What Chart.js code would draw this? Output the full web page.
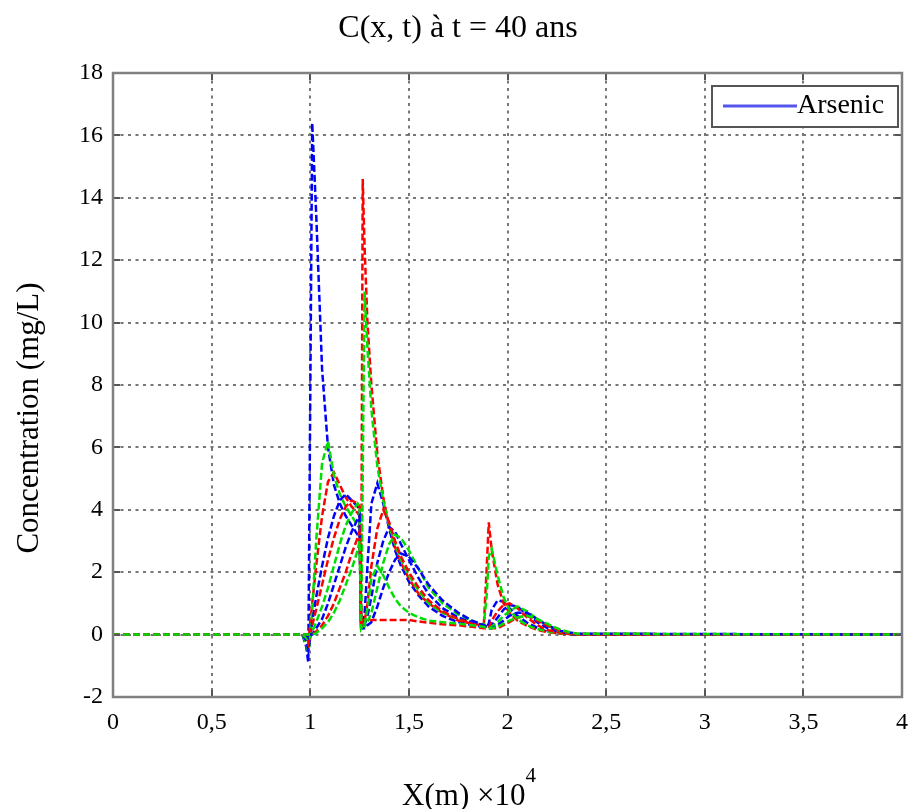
<!DOCTYPE html>
<html>
<head>
<meta charset="utf-8">
<title>C(x, t) à t = 40 ans</title>
<script src="https://cdn.jsdelivr.net/npm/chart.js@4.4.1/dist/chart.umd.min.js"></script>
<style>
  html, body { margin: 0; padding: 0; background: #fff; }
  #chart { display: block; }
</style>
</head>
<body>
<canvas id="chart" width="908" height="809"></canvas>
<script>
// abscisses communes, X en 10^4 m
const xs = [0, 0.96, 0.98, 0.99, 1.0, 1.01, 1.03, 1.06, 1.09, 1.12, 1.15, 1.18, 1.21, 1.24, 1.25,
  1.258, 1.266, 1.275, 1.29, 1.31, 1.34, 1.37, 1.4, 1.43, 1.46, 1.5, 1.55, 1.6, 1.67, 1.75,
  1.82, 1.88, 1.895, 1.905, 1.92, 1.95, 1.98, 2.01, 2.05, 2.1, 2.15, 2.2, 2.27, 2.35, 4];

// concentrations (mg/L), une courbe par pas de temps
const c0 = [0, 0, -0.4, -0.9, 7.5, 16.4, 13.5, 8.5, 6.0, 4.8, 4.2, 3.8, 3.5, 3.2, 3.0,
  0.3, 0.4, 0.6, 2.2, 4.2, 4.85, 4.2, 3.4, 2.7, 2.2, 1.7, 1.25, 0.9, 0.6, 0.4,
  0.3, 0.25, 0.25, 0.35, 0.8, 1.1, 1.05, 0.85, 0.6, 0.38, 0.22, 0.1, 0.04, 0, 0];
const c1 = [0, 0, -0.2, -0.3, 0.4, 1.0, 2.2, 3.8, 4.9, 5.2, 4.8, 4.4, 4.1, 3.9, 3.8,
  0.3, 14.6, 12.5, 10.0, 8.0, 5.8, 4.4, 3.5, 2.8, 2.3, 1.8, 1.3, 1.0, 0.7, 0.45,
  0.35, 0.3, 2.2, 3.6, 2.7, 1.6, 1.0, 0.7, 0.45, 0.28, 0.15, 0.08, 0.03, 0, 0];
const c2 = [0, 0, -0.3, -0.55, -0.2, 0.8, 3.0, 5.5, 6.2, 5.1, 4.5, 4.1, 3.8, 3.5, 3.4,
  0.2, 5.0, 11.0, 9.2, 7.2, 5.4, 4.3, 3.5, 2.9, 2.4, 1.9, 1.4, 1.0, 0.7, 0.5,
  0.4, 0.3, 1.3, 2.5, 2.75, 1.9, 1.2, 0.8, 0.5, 0.3, 0.18, 0.1, 0.04, 0, 0];
const c3 = [0, 0, -0.2, -0.5, -0.1, 0.4, 1.2, 2.2, 3.1, 3.8, 4.3, 4.5, 4.3, 4.1, 4.0,
  0.25, 0.3, 0.3, 0.6, 1.2, 2.3, 3.0, 3.45, 3.3, 2.9, 2.4, 1.8, 1.3, 0.85, 0.55,
  0.4, 0.3, 0.25, 0.25, 0.3, 0.55, 0.8, 0.95, 0.9, 0.65, 0.4, 0.22, 0.08, 0, 0];
const c4 = [0, 0, -0.1, -0.3, 0, 0.3, 0.8, 1.6, 2.4, 3.1, 3.7, 4.1, 4.3, 4.2, 4.1,
  0.3, 0.3, 0.4, 1.0, 2.2, 3.4, 4.0, 3.6, 3.0, 2.5, 2.0, 1.5, 1.1, 0.75, 0.5,
  0.35, 0.3, 0.25, 0.2, 0.45, 0.75, 0.95, 1.0, 0.85, 0.55, 0.3, 0.15, 0.06, 0, 0];
const c5 = [0, 0, -0.1, -0.2, 0, 0.1, 0.4, 0.9, 1.5, 2.2, 2.9, 3.5, 3.9, 4.2, 4.1,
  0.2, 0.2, 0.25, 0.4, 0.7, 1.5, 2.3, 2.9, 3.2, 3.1, 2.7, 2.1, 1.5, 1.0, 0.65,
  0.45, 0.3, 0.25, 0.2, 0.25, 0.4, 0.6, 0.75, 0.9, 0.75, 0.5, 0.3, 0.1, 0.02, 0];
const c6 = [0, 0, 0, -0.1, 0, 0, 0.2, 0.5, 1.0, 1.6, 2.2, 2.8, 3.3, 3.7, 3.8,
  0.2, 0.2, 0.2, 0.3, 0.4, 0.9, 1.5, 2.0, 2.4, 2.6, 2.5, 2.1, 1.6, 1.1, 0.7,
  0.45, 0.3, 0.25, 0.2, 0.2, 0.3, 0.45, 0.6, 0.7, 0.7, 0.5, 0.3, 0.12, 0.03, 0];
const c7 = [0, 0, 0, 0, 0, 0, 0.1, 0.3, 0.6, 1.0, 1.5, 2.0, 2.6, 3.1, 3.3,
  0.3, 0.47, 0.47, 0.47, 0.47, 0.47, 0.47, 0.47, 0.47, 0.47, 0.47, 0.42, 0.38, 0.33, 0.3,
  0.25, 0.2, 0.2, 0.2, 0.2, 0.2, 0.3, 0.4, 0.55, 0.6, 0.45, 0.3, 0.12, 0.02, 0];
const c8 = [0, 0, 0, 0, 0, 0, 0.05, 0.2, 0.4, 0.7, 1.1, 1.6, 2.1, 2.7, 3.0,
  0.2, 0.3, 0.3, 0.8, 1.8, 2.2, 1.9, 1.5, 1.15, 0.9, 0.7, 0.55, 0.45, 0.4, 0.35,
  0.3, 0.25, 0.2, 0.2, 0.2, 0.25, 0.35, 0.45, 0.55, 0.6, 0.5, 0.35, 0.15, 0.03, 0];

const curves = [c0, c1, c2, c3, c4, c5, c6, c7, c8];
const colors = ['#0000ff', '#ff0000', '#00dd00'];
const xTicks = [0, 0.5, 1, 1.5, 2, 2.5, 3, 3.5, 4];
const yTicks = [-2, 0, 2, 4, 6, 8, 10, 12, 14, 16, 18];

const serif = '"Liberation Serif", "Times New Roman", serif';

const datasets = curves.map((ys, i) => ({
  label: i === 0 ? 'Arsenic' : 'c' + i,
  data: ys.map((y, j) => ({ x: xs[j], y: y })),
  borderColor: colors[i % 3],
  borderWidth: 2.5,
  borderDash: [7, 3],
  pointRadius: 0,
  tension: 0,
  fill: false,
  order: curves.length - i
}));

// cadre, graduations, légende et textes façon MATLAB
const matlabBox = {
  id: 'matlabBox',
  afterDraw(chart) {
    const ctx = chart.ctx;
    const a = chart.chartArea;
    const sx = chart.scales.x, sy = chart.scales.y;
    ctx.save();

    ctx.strokeStyle = '#555';
    ctx.lineWidth = 2;
    ctx.beginPath();
    xTicks.forEach(v => {
      const px = Math.round(sx.getPixelForValue(v));
      ctx.moveTo(px, a.bottom); ctx.lineTo(px, a.bottom - 7);
      ctx.moveTo(px, a.top); ctx.lineTo(px, a.top + 7);
    });
    yTicks.forEach(v => {
      const py = Math.round(sy.getPixelForValue(v));
      ctx.moveTo(a.left, py); ctx.lineTo(a.left + 7, py);
      ctx.moveTo(a.right, py); ctx.lineTo(a.right - 7, py);
    });
    ctx.stroke();

    ctx.strokeStyle = '#808080';
    ctx.lineWidth = 2.5;
    ctx.strokeRect(a.left, a.top, a.right - a.left, a.bottom - a.top);

    // légende
    ctx.fillStyle = '#fff';
    ctx.fillRect(712, 86, 186, 41);
    ctx.strokeStyle = '#555';
    ctx.lineWidth = 2;
    ctx.strokeRect(712, 86, 186, 41);
    ctx.strokeStyle = '#5555ee';
    ctx.lineWidth = 3;
    ctx.beginPath();
    ctx.moveTo(723, 106); ctx.lineTo(797, 106);
    ctx.stroke();
    ctx.fillStyle = '#000';
    ctx.font = '28px ' + serif;
    ctx.textAlign = 'left';
    ctx.textBaseline = 'middle';
    ctx.fillText('Arsenic', 797, 106);

    // titre
    ctx.font = '32px ' + serif;
    ctx.textAlign = 'center';
    ctx.fillText('C(x, t) à t = 40 ans', 458, 29);

    // titre axe x avec exposant
    ctx.font = '31px ' + serif;
    const main = 'X(m) \u00d710';
    const w = ctx.measureText(main).width;
    ctx.font = '21px ' + serif;
    const w4 = ctx.measureText('4').width;
    const x0 = 469 - (w + w4) / 2;
    ctx.font = '31px ' + serif;
    ctx.textAlign = 'left';
    ctx.fillText(main, x0, 797);
    ctx.font = '21px ' + serif;
    ctx.fillText('4', x0 + w, 776);

    // titre axe y
    ctx.font = '31px ' + serif;
    ctx.textAlign = 'center';
    ctx.translate(30, 418);
    ctx.rotate(-Math.PI / 2);
    ctx.fillText('Concentration (mg/L)', 0, 0);

    ctx.restore();
  }
};

new Chart(document.getElementById('chart'), {
  type: 'line',
  data: { datasets: datasets },
  options: {
    responsive: false,
    animation: false,
    layout: { padding: { top: 73, right: 6, left: 0, bottom: 0 } },
    plugins: {
      legend: { display: false },
      title: { display: false },
      tooltip: { enabled: false }
    },
    scales: {
      x: {
        type: 'linear',
        min: 0,
        max: 4,
        afterFit(scale) {
          scale.height = 112;
          scale.paddingLeft = 0;
          scale.paddingRight = 0;
        },
        afterBuildTicks(scale) { scale.ticks = xTicks.map(v => ({ value: v })); },
        ticks: {
          color: '#000',
          padding: 11,
          font: { family: serif, size: 24 },
          callback: v => String(v).replace('.', ',')
        },
        grid: { color: '#777', lineWidth: 2, drawTicks: false },
        border: { display: false, dash: [3, 4.5] }
      },
      y: {
        min: -2,
        max: 18,
        afterFit(scale) {
          scale.width = 113;
          scale.paddingTop = 0;
          scale.paddingBottom = 0;
        },
        afterBuildTicks(scale) { scale.ticks = yTicks.map(v => ({ value: v })); },
        ticks: {
          color: '#000',
          padding: 10,
          font: { family: serif, size: 24 }
        },
        grid: { color: '#777', lineWidth: 2, drawTicks: false },
        border: { display: false, dash: [3, 4.5] }
      }
    }
  },
  plugins: [matlabBox]
});
</script>
</body>
</html>
